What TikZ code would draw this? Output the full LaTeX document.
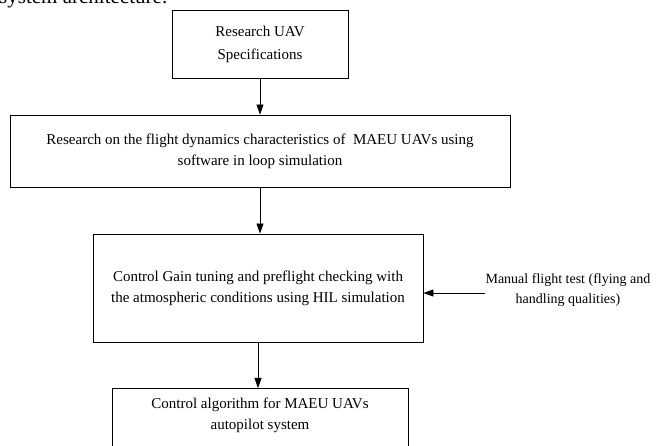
\documentclass[tikz,border=0pt]{standalone}
\usepackage{fontspec}
\setmainfont{Liberation Serif}
\usetikzlibrary{arrows.meta}
\begin{document}
\begin{tikzpicture}[x=1pt,y=-1pt,
  box/.style={draw, line width=0.8pt, align=center, inner sep=0pt,
    font=\fontsize{15}{21}\selectfont},
  arr/.style={-{Triangle[length=10pt,width=7pt]}, line width=0.8pt},
  lbl/.style={align=center, inner sep=0pt, font=\fontsize{14}{20}\selectfont}]
\useasboundingbox (0,0) rectangle (662,446);
\clip (0,0) rectangle (662,446);
\node[anchor=base west, inner sep=0pt, font=\fontsize{21}{24}\selectfont] (title) at (-1,4) {system architecture:};
\node[box, minimum width=176, minimum height=68, font=\fontsize{15}{23}\selectfont] (b1) at (260,44) {Research UAV\\Specifications};
\node[box, minimum width=500, minimum height=72] (b2) at (260,151) {Research on the flight dynamics characteristics of \ MAEU UAVs using\\software in loop simulation};
\node[box, minimum width=330, minimum height=108] (b3) at (258,288) {Control Gain tuning and preflight checking with\\the atmospheric conditions using HIL simulation};
\node[box, minimum width=296, minimum height=110, anchor=north] (b4) at (260,388) {};
\node[box, draw=none, anchor=north] (b4t) at (260,398) {Control algorithm for MAEU UAVs\\autopilot system};
\node[lbl] (man) at (568,290) {Manual flight test (flying and\\handling qualities)};
\coordinate (manl) at (485,293);
\draw[arr] (b1.south) -- (b2.north);
\draw[arr] (b2.south) -- (b2.south |- b3.north);
\draw[arr] (b3.south) -- (b3.south |- b4.north);
\draw[arr] (manl) -- (manl -| b3.east);
\end{tikzpicture}
\end{document}
